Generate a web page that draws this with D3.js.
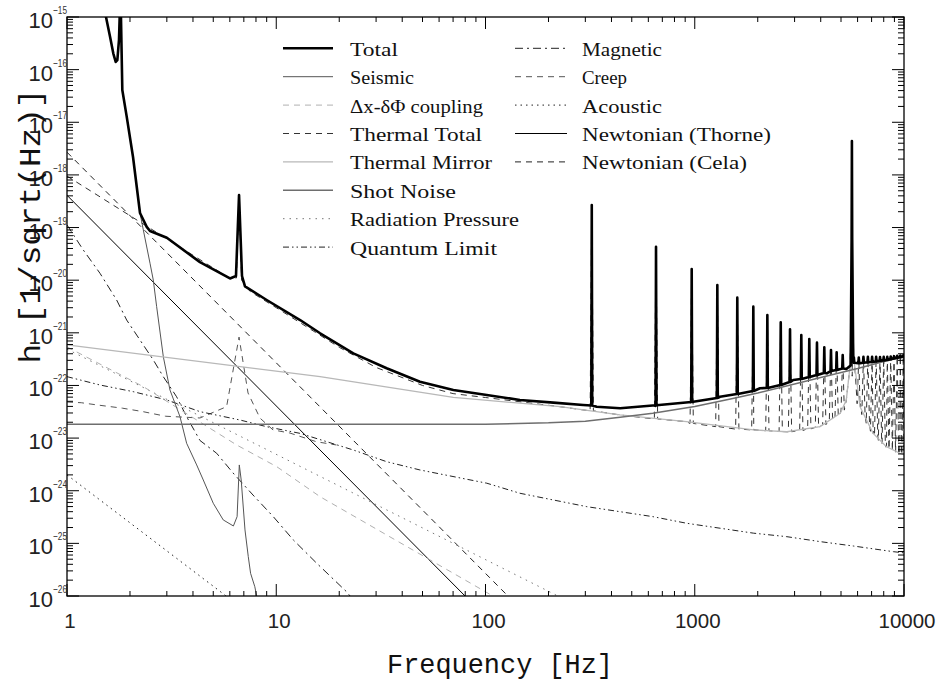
<!DOCTYPE html>
<html>
<head>
<meta charset="utf-8">
<script src="https://cdn.jsdelivr.net/npm/d3@7"></script>
<style>
  body { margin: 0; background: #fff; }
  svg { display: block; }
</style>
</head>
<body>
<svg id="chart" width="940" height="683"></svg>
<script>
// ---- noise budget data: frequency [Hz] and strain h [1/sqrt(Hz)] ----
const totalBase = [
  [1.50, 1.3e-15], [1.536, 1e-15], [1.606, 4.2e-16], [1.664, 2.04e-16], [1.709, 1.40e-16],
  [1.740, 1.52e-16], [1.772, 3.66e-16], [1.80, 3e-15], [1.811, 1e-15], [1.838, 4.1e-17],
  [1.929, 1.28e-17], [2.068, 2.19e-18], [2.233, 1.89e-19], [2.404, 1.03e-19], [2.493, 8.6e-20],
  [3.0, 6.4e-20], [4.32, 2.2e-20], [6.01, 1.08e-20], [6.42, 1.2e-20], [6.64, 4.16e-19],
  [6.86, 1.2e-20], [7.09, 7.6e-21], [9.0, 4.2e-21], [13.0, 1.75e-21], [16.2, 9.8e-22],
  [23.35, 4.08e-22], [33.7, 2.12e-22], [48.6, 1.18e-22], [70.2, 8.2e-23], [101.4, 6.59e-23],
  [146, 5.3e-23], [211, 4.71e-23], [293, 4.26e-23], [340, 3.95e-23], [440, 3.7e-23],
  [650, 4.1e-23], [984, 4.9e-23], [1320, 6.1e-23], [2051, 8.85e-23], [2958, 1.27e-22],
  [4275, 1.70e-22], [5300, 2.05e-22], [5560, 2.4e-22], [5620, 6e-20], [5637, 4.4e-18],
  [5655, 6e-20], [5720, 2.8e-22], [6166, 2.64e-22], [8894, 3.28e-22], [10000, 3.63e-22]
];

// violin-mode harmonics: frequency, peak, and level of the curve beneath each peak
const violinFreq = [322, 653, 967, 1282, 1597, 1905, 2223, 2576, 2853, 3230, 3527, 3838, 4160, 4478, 4766, 5094,
  5760, 6080, 6400, 6720, 7040, 7360, 7680, 8000, 8320, 8640, 8960, 9280, 9600, 9920];
const violinPeak = [2.69e-19, 4.32e-20, 1.63e-20, 8.1e-21, 4.66e-21, 3.14e-21, 2.18e-21, 1.58e-21, 1.17e-21,
  9.1e-22, 7.6e-22, 6.5e-22, 5.31e-22, 4.72e-22, 4.27e-22, 3.79e-22,
  3.4e-22, 3.4e-22, 3.5e-22, 3.5e-22, 3.5e-22, 3.5e-22, 3.45e-22, 3.5e-22, 3.5e-22, 3.55e-22, 3.6e-22, 3.65e-22, 3.7e-22, 3.75e-22];
const violinTotalFoot = [4.17e-23, 4.2e-23, 4.85e-23, 5.78e-23, 6.89e-23, 7.85e-23, 8.95e-23, 1.02e-22, 1.16e-22,
  1.33e-22, 1.45e-22, 1.58e-22, 1.73e-22, 1.88e-22, 1.97e-22, 2.1e-22,
  2.7e-22, 2.65e-22, 2.7e-22, 2.75e-22, 2.8e-22, 2.85e-22, 2.95e-22, 3.0e-22, 3.05e-22, 3.15e-22, 3.25e-22, 3.35e-22, 3.45e-22, 3.55e-22];
const violinMirrorFoot = [3.29e-23, 2.31e-23, 1.9e-23, 1.65e-23, 1.48e-23, 1.43e-23, 1.38e-23, 1.33e-23, 1.32e-23,
  1.4e-23, 1.5e-23, 1.6e-23, 1.8e-23, 2.2e-23, 2.6e-23, 3.4e-23,
  1.5e-22, 4.5e-23, 2.8e-23, 1.9e-23, 1.35e-23, 1.1e-23, 9e-24, 7.8e-24, 6.8e-24, 6.2e-24, 5.8e-24, 5.4e-24, 5.1e-24, 4.8e-24];

const seismic = [
  [1.50, 1.3e-15], [1.536, 1e-15], [1.606, 4.2e-16], [1.664, 2.04e-16], [1.709, 1.40e-16],
  [1.740, 1.52e-16], [1.772, 3.66e-16], [1.80, 3e-15], [1.811, 1e-15], [1.838, 4.1e-17],
  [1.929, 1.28e-17], [2.068, 2.19e-18], [2.233, 1.89e-19], [2.316, 9.0e-20], [2.493, 2.1e-20],
  [2.584, 1.01e-20], [2.682, 3.14e-21], [2.886, 3.52e-22], [3.105, 8.2e-23], [3.467, 2.55e-23],
  [3.73, 7.97e-24], [4.166, 3.09e-24], [4.48, 1.6e-24], [5.0, 5.78e-25], [5.58, 2.79e-25],
  [6.24, 2.14e-25], [6.50, 3.22e-25], [6.66, 3.09e-24], [6.80, 1.6e-24], [7.09, 1.8e-25],
  [7.35, 5.6e-26], [7.54, 2.7e-26], [7.9, 1.5e-26], [8.13, 8.4e-27]
];

const dxCoupling = [[1, 5.4e-22], [2.316, 9.5e-23], [6.47, 7.4e-24], [10.06, 2.86e-24], [16.2, 7.7e-25], [104, 1.1e-26], [130, 6e-27]];

const thermalTotal = [
  [1, 9.5e-19], [2, 1.68e-19], [3, 6.1e-20], [4.5, 2.22e-20], [6.0, 1.08e-20], [6.45, 1.1e-20],
  [6.64, 4.0e-19], [6.83, 1.0e-20], [7.5, 6.1e-21], [10, 3.0e-21], [15, 1.09e-21], [20, 5.3e-22],
  [30, 2.2e-22], [50, 1.0e-22], [70, 7.0e-23], [100, 5.9e-23], [227, 3.95e-23], [439, 2.75e-23],
  [913, 2.05e-23], [1914, 1.43e-23], [2754, 1.32e-23], [3969, 1.65e-23], [4959, 2.96e-23],
  [5300, 5.3e-23], [5500, 2.0e-22], [5600, 1.2e-21], [5637, 4.3e-18], [5680, 1.2e-21],
  [5800, 2.5e-22], [6166, 3.95e-23], [7121, 1.23e-23], [8249, 6.87e-24], [9542, 5.15e-24], [10000, 4.78e-24]
];

const thermalMirror = [
  [1, 5.9e-22], [16.2, 1.47e-22], [70.2, 5.96e-23], [227, 3.95e-23], [439, 2.75e-23],
  [913, 2.05e-23], [1914, 1.43e-23], [2754, 1.32e-23], [3969, 1.65e-23], [4959, 2.96e-23],
  [5300, 5.3e-23], [5500, 2.0e-22], [5600, 1.2e-21], [5637, 4.2e-18], [5680, 1.2e-21],
  [5800, 2.5e-22], [6166, 3.95e-23], [7121, 1.23e-23], [8249, 6.87e-24], [9542, 5.15e-24], [10000, 4.78e-24]
];

const shotNoise = [
  [1, 1.83e-23], [100, 1.84e-23], [200, 1.95e-23], [300, 2.1e-23], [440, 2.5e-23], [630, 2.95e-23],
  [1000, 4.0e-23], [1500, 5.6e-23], [2000, 7.2e-23], [3000, 1.07e-22], [4000, 1.42e-22],
  [6000, 2.1e-22], [8000, 2.85e-22], [10000, 3.55e-22]
];

const radiationPressure = [[1, 4.9e-22], [230, 9.3e-27]];

const quantumLimit = [
  [1, 1.47e-22], [1.438, 1.02e-22], [2.073, 7.62e-23], [2.996, 5.3e-23], [4.32, 3.18e-23],
  [6.70, 2.21e-23], [8.98, 1.65e-23], [12.99, 1.23e-23], [23.35, 5.94e-24], [33.7, 3.56e-24],
  [48.6, 2.48e-24], [101.4, 1.39e-24], [146, 8.95e-25], [211, 6.67e-25], [305, 4.98e-25],
  [439, 4.0e-25], [633, 3.21e-25], [914, 2.41e-25], [1320, 1.94e-25], [1914, 1.56e-25],
  [2754, 1.34e-25], [3969, 1.08e-25], [5732, 8.9e-26], [8894, 6.95e-26], [10000, 6.6e-26]
];

const magnetic = [
  [1.0, 1.12e-19], [1.196, 3.75e-20], [1.438, 1.35e-20], [1.727, 4.2e-21], [1.928, 1.75e-21],
  [2.233, 7.3e-22], [2.585, 3.05e-22], [2.885, 1.47e-22], [3.34, 6.1e-23], [3.73, 2.55e-23],
  [4.32, 9e-24], [5.19, 5.15e-24], [6.22, 2.17e-24], [7.74, 8.3e-25], [9.69, 3.2e-25],
  [12.07, 1.16e-25], [15.6, 4.2e-26], [21.7, 1.2e-26], [25, 6e-27]
];

const creep = [
  [1, 4.85e-23], [1.17, 4.7e-23], [1.37, 4.3e-23], [1.84, 3.7e-23], [2.29, 3.2e-23],
  [2.96, 2.6e-23], [4.32, 2.41e-23], [5.79, 3.95e-23], [6.64, 8.3e-22], [7.33, 7.2e-23],
  [8.36, 2.4e-23], [9.65, 1.43e-23], [11.6, 1.25e-23], [15.6, 8.5e-24], [19.4, 7.4e-24]
];

const acoustic = [[1, 2.0e-24], [6.2, 8e-27]];

const newtonThorne = [[1, 4.1e-19], [90, 6.2e-27]];
const newtonCela = [[1, 2.7e-18], [150, 5.3e-27]];

// tick labels
const xTickValues = [1, 10, 100, 1000, 10000];
const xTickLabels = ["1", "10", "100", "1000", "10000"];
const yTickExponents = [-15, -16, -17, -18, -19, -20, -21, -22, -23, -24, -25, -26];

// ---- layout ----
const svg = d3.select("#chart");
const plot = { left: 67, right: 904, top: 17, bottom: 596 };

const x = d3.scaleLog().domain([1, 10000]).range([plot.left, plot.right]);
const y = d3.scaleLog().domain([1e-26, 1e-15]).range([plot.bottom, plot.top]);

svg.append("defs").append("clipPath").attr("id", "plotClip")
  .append("rect")
  .attr("x", plot.left).attr("y", plot.top)
  .attr("width", plot.right - plot.left).attr("height", plot.bottom - plot.top);

const line = d3.line().x(d => x(d[0])).y(d => y(d[1]));

// narrow resonance peaks merged into a base curve
function withSpikes(base, freqs, peaks, feet, rel) {
  const pts = base.slice();
  freqs.forEach((f, i) => {
    pts.push([f * (1 - rel), feet[i]], [f, peaks[i]], [f * (1 + rel), feet[i]]);
  });
  return pts.sort((a, b) => a[0] - b[0]);
}

const styles = {
  total:     { stroke: "#000", width: 2.6, dash: null },
  seismic:   { stroke: "#555", width: 1.0, dash: null },
  dx:        { stroke: "#b0b0b0", width: 1.0, dash: "6,5" },
  thermal:   { stroke: "#333", width: 1.0, dash: "6,5" },
  mirror:    { stroke: "#b8b8b8", width: 1.3, dash: null },
  shot:      { stroke: "#6e6e6e", width: 1.5, dash: null },
  radiation: { stroke: "#777", width: 1.0, dash: "1.5,5" },
  quantum:   { stroke: "#222", width: 1.0, dash: "6,3,1.5,3,1.5,3" },
  magnetic:  { stroke: "#222", width: 1.0, dash: "8,4,2,4" },
  creep:     { stroke: "#555", width: 1.0, dash: "6,5" },
  acoustic:  { stroke: "#222", width: 1.0, dash: "1.5,4" },
  thorne:    { stroke: "#000", width: 1.0, dash: null },
  cela:      { stroke: "#222", width: 1.0, dash: "6,5" }
};

const g = svg.append("g").attr("clip-path", "url(#plotClip)");
function draw(data, st) {
  g.append("path").datum(data)
    .attr("d", line)
    .attr("fill", "none")
    .attr("stroke", st.stroke)
    .attr("stroke-width", st.width)
    .attr("stroke-dasharray", st.dash)
    .attr("stroke-linejoin", "round");
}

draw(acoustic, styles.acoustic);
draw(newtonCela, styles.cela);
draw(newtonThorne, styles.thorne);
draw(creep, styles.creep);
draw(magnetic, styles.magnetic);
draw(quantumLimit, styles.quantum);
draw(radiationPressure, styles.radiation);
draw(dxCoupling, styles.dx);
draw(seismic, styles.seismic);
draw(withSpikes(thermalTotal, violinFreq, violinPeak, violinMirrorFoot, 0.018), styles.thermal);
draw(thermalMirror, styles.mirror);
draw(shotNoise, styles.shot);
draw(withSpikes(totalBase, violinFreq, violinPeak, violinTotalFoot, 0.005), styles.total);

// ---- frame and ticks ----
const axes = svg.append("g");
axes.append("rect")
  .attr("x", plot.left).attr("y", plot.top)
  .attr("width", plot.right - plot.left).attr("height", plot.bottom - plot.top)
  .attr("fill", "none").attr("stroke", "#000").attr("stroke-width", 1.3);

const xMinor = [], yMinor = [];
for (let d = 0; d < 4; d++) for (let k = 2; k <= 9; k++) xMinor.push(k * Math.pow(10, d));
for (let e = -26; e < -15; e++) for (let k = 2; k <= 9; k++) yMinor.push(k * Math.pow(10, e));
const yMajor = yTickExponents.map(e => Math.pow(10, e));

function tick(x1, y1, x2, y2) {
  axes.append("line").attr("x1", x1).attr("y1", y1).attr("x2", x2).attr("y2", y2)
    .attr("stroke", "#000").attr("stroke-width", 1);
}
xTickValues.forEach(v => { tick(x(v), plot.bottom, x(v), plot.bottom - 12); tick(x(v), plot.top, x(v), plot.top + 12); });
xMinor.forEach(v => { tick(x(v), plot.bottom, x(v), plot.bottom - 5); tick(x(v), plot.top, x(v), plot.top + 5); });
yMajor.forEach(v => { tick(plot.left, y(v), plot.left + 12, y(v)); tick(plot.right, y(v), plot.right - 12, y(v)); });
yMinor.forEach(v => { tick(plot.left, y(v), plot.left + 6, y(v)); tick(plot.right, y(v), plot.right - 6, y(v)); });

// tick labels
const tickFont = "'Liberation Sans', Arial, sans-serif";
axes.selectAll(".xl").data(xTickValues).enter().append("text")
  .attr("x", d => x(d) + 3).attr("y", 628)
  .attr("text-anchor", "middle")
  .attr("font-family", tickFont).attr("font-size", 20.5).attr("fill", "#222")
  .text((d, i) => xTickLabels[i]);

yTickExponents.forEach(e => {
  const yy = y(Math.pow(10, e));
  axes.append("text").attr("x", 53).attr("y", yy + 11)
    .attr("text-anchor", "end")
    .attr("font-family", tickFont).attr("font-size", 22).attr("fill", "#222")
    .text("10");
  axes.append("text").attr("x", 53).attr("y", yy - 3)
    .attr("font-family", tickFont).attr("font-size", 11).attr("fill", "#333")
    .attr("textLength", 14).attr("lengthAdjust", "spacingAndGlyphs")
    .text("\u2212" + Math.abs(e));
});

// axis titles
const titleFont = "'Liberation Mono', 'Courier New', monospace";
svg.append("text").attr("x", 500).attr("y", 673)
  .attr("text-anchor", "middle")
  .attr("font-family", titleFont).attr("font-size", 28).attr("fill", "#111")
  .attr("textLength", 226).attr("lengthAdjust", "spacingAndGlyphs")
  .text("Frequency [Hz]");
svg.append("text")
  .attr("transform", "translate(40,226) rotate(-90)")
  .attr("text-anchor", "middle")
  .attr("font-family", titleFont).attr("font-size", 29).attr("fill", "#111")
  .attr("textLength", 275).attr("lengthAdjust", "spacingAndGlyphs")
  .text("h [1/sqrt(Hz)]");

// ---- legend ----
const legendCol1 = [
  { key: "total", label: "Total", w: 48 },
  { key: "seismic", label: "Seismic", w: 64 },
  { key: "dx", label: "\u0394x-\u03b4\u03a6 coupling", w: 133 },
  { key: "thermal", label: "Thermal Total", w: 132 },
  { key: "mirror", label: "Thermal Mirror", w: 142 },
  { key: "shot", label: "Shot Noise", w: 106 },
  { key: "radiation", label: "Radiation Pressure", w: 169 },
  { key: "quantum", label: "Quantum Limit", w: 147 }
];
const legendCol2 = [
  { key: "magnetic", label: "Magnetic", w: 80 },
  { key: "creep", label: "Creep", w: 45 },
  { key: "acoustic", label: "Acoustic", w: 80 },
  { key: "thorne", label: "Newtonian (Thorne)", w: 189 },
  { key: "cela", label: "Newtonian (Cela)", w: 165 }
];
const legendFont = "'Liberation Serif', 'Times New Roman', serif";
function legendColumn(items, x0, x1, tx) {
  items.forEach((it, i) => {
    const yy = 48.3 + i * 28.4;
    const st = styles[it.key];
    svg.append("line").attr("x1", x0).attr("x2", x1).attr("y1", yy).attr("y2", yy)
      .attr("stroke", st.stroke).attr("stroke-width", st.width)
      .attr("stroke-dasharray", st.dash);
    svg.append("text").attr("x", tx).attr("y", yy + 7.5)
      .attr("font-family", legendFont).attr("font-size", 19).attr("fill", "#111")
      .attr("textLength", it.w).attr("lengthAdjust", "spacingAndGlyphs")
      .text(it.label);
  });
}
legendColumn(legendCol1, 283, 333, 350);
legendColumn(legendCol2, 515, 567, 582);
</script>
</body>
</html>
